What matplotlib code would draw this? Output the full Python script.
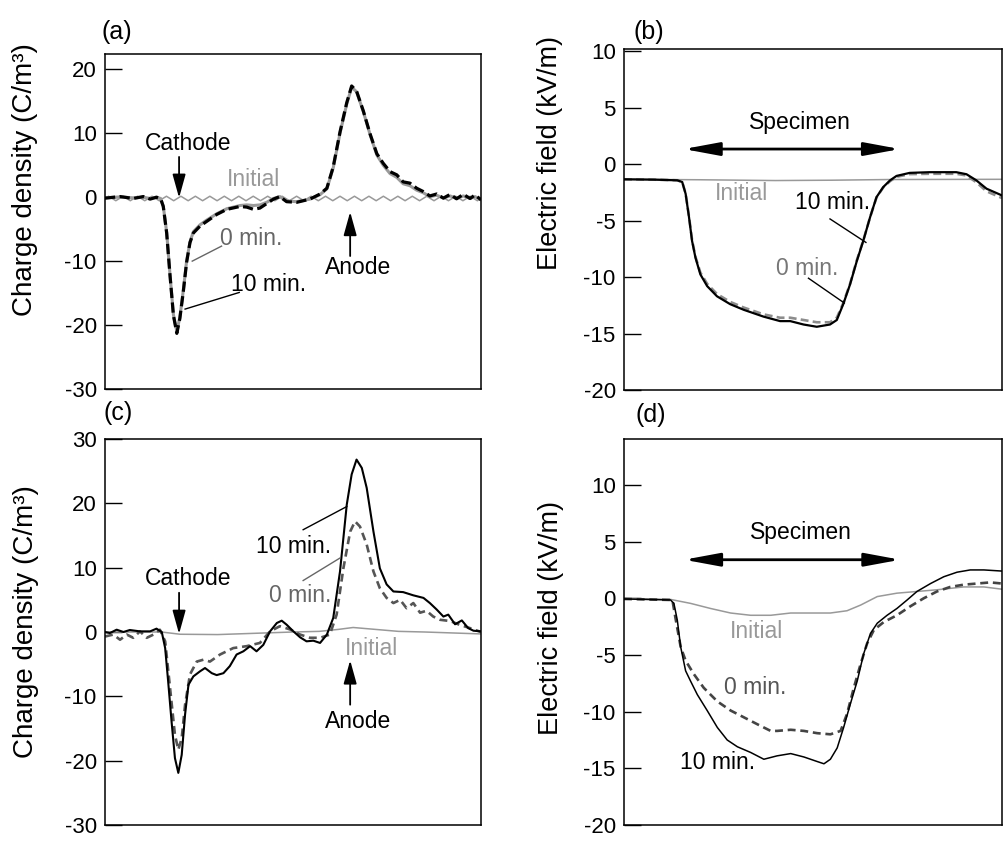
import numpy as np
import matplotlib
matplotlib.use("Agg")
import matplotlib.pyplot as plt

plt.rcParams['font.family'] = ['Liberation Sans', 'DejaVu Sans']
plt.rcParams['axes.unicode_minus'] = False

# ---------------- data (position across specimen in % of axis width) ----------------
# (a) charge density, uniform
a_x = [0, 4.0, 7.5, 10.2, 12.0, 13.7, 14.8, 15.5, 16.4, 17.3, 18.2, 19.1, 19.9, 20.8, 21.7,
       22.6, 23.5, 25.3, 27.0, 29.7, 32.4, 35.9, 37.7, 39.5, 41.2, 43.0, 44.8, 46.5, 48.3,
       51.0, 54.5, 57.2, 59.0, 60.7, 62.5, 64.3, 65.6, 66.9, 68.7, 70.5, 72.3, 74.0, 75.8,
       77.6, 79.3, 81.1, 82.9, 84.6, 86.4, 88.2, 90.0, 91.8, 93.5, 95.3, 97.1, 98.4, 100]
a_10min = [-0.15, 0.1, -0.2, 0.1, -0.3, 0.0, -0.25, -1.45, -5.6, -12.3, -18.5, -21.3, -19.0,
           -14.9, -10.2, -7.1, -5.6, -4.5, -3.8, -2.7, -1.9, -1.45, -1.55, -1.9, -1.7, -1.0,
           -0.3, 0.1, -0.7, -0.8, -0.3, 0.5, 1.4, 4.75, 10.2, 14.8, 17.4, 16.6, 13.5, 9.9, 6.8,
           5.3, 4.0, 3.5, 2.4, 2.2, 1.4, 0.9, 0.2, 0.5, -0.15, 0.45, -0.25, 0.45, -0.2, 0.35, -0.4]
a_0min = [-0.1, 0.05, -0.1, 0.0, -0.2, 0.0, -0.2, -1.4, -5.5, -12.2, -18.4, -21.0, -18.8,
          -14.7, -10.0, -7.0, -5.4, -4.3, -3.6, -2.6, -1.8, -1.3, -1.2, -1.3, -1.2, -0.8,
          -0.2, 0.1, -0.6, -0.7, -0.3, 0.4, 1.3, 4.6, 10.0, 14.6, 17.2, 16.5, 13.4, 9.8, 6.6,
          5.0, 3.7, 3.1, 2.1, 1.8, 1.1, 0.7, 0.1, 0.3, -0.1, 0.2, -0.2, 0.2, -0.2, 0.1, -0.4]
# small ripple of the initial profile, read at quarter-period steps (26 ripples)
a_initial = [-0.2, 0.15, -0.2, -0.55] * 26 + [-0.2]

# (b) electric field, uniform
b_x = [0, 7.9, 14.1, 15.4, 16.3, 17.2, 18.0, 18.9, 20.2, 22.0, 24.6, 28.1, 31.7, 36.9, 41.3,
       44.0, 47.5, 51.0, 54.5, 56.3, 58.0, 59.8, 61.6, 63.3, 65.1, 66.8, 68.6, 70.4, 72.1,
       75.6, 80.9, 87.9, 90.6, 93.2, 95.9, 100]
b_10min = [-1.34, -1.37, -1.43, -1.58, -2.62, -4.7, -6.79, -8.27, -9.76, -10.8, -11.7, -12.4,
           -12.9, -13.5, -13.9, -13.9, -14.2, -14.4, -14.2, -13.8, -12.4, -10.65, -8.57, -6.79,
           -4.7, -2.92, -2.02, -1.43, -1.04, -0.77, -0.71, -0.71, -0.89, -1.43, -2.17, -2.77]
b_0min = [-1.34, -1.37, -1.43, -1.58, -2.6, -4.65, -6.7, -8.2, -9.6, -10.6, -11.5, -12.2,
          -12.7, -13.3, -13.6, -13.6, -13.8, -14.0, -14.0, -13.6, -12.3, -10.6, -8.5, -6.75,
          -4.7, -2.95, -2.05, -1.5, -1.12, -0.88, -0.85, -0.85, -1.0, -1.6, -2.4, -3.0]
b_init_x = [0, 20, 40, 55, 70, 85, 100]
b_initial = [-1.34, -1.38, -1.45, -1.42, -1.36, -1.35, -1.34]

# (c) charge density, divergent
c_x10 = [0, 1.3, 3.1, 4.9, 6.6, 9.3, 12.0, 13.7, 15.1, 16.0, 16.8, 17.7, 18.6, 19.5, 20.4,
         21.3, 22.2, 23.5, 25.3, 26.6, 28.4, 29.7, 31.5, 33.2, 35.0, 36.8, 38.6, 40.3, 42.1,
         43.9, 45.7, 47.0, 48.3, 50.1, 51.9, 53.6, 55.4, 57.2, 59.0, 60.7, 62.5, 64.3, 65.6,
         66.9, 68.3, 69.6, 71.4, 73.1, 74.9, 76.7, 79.3, 82.0, 84.7, 86.4, 88.2, 90.0, 91.3,
         93.1, 94.9, 96.6, 98.0, 100]
c_10min = [0, -0.16, 0.36, 0, 0.31, 0.1, 0.1, 0.52, 0, -2.5, -7.7, -13.9, -19.6, -21.9, -19.1,
           -12.8, -8.2, -6.9, -6.1, -5.6, -6.4, -6.7, -6.4, -5.3, -3.5, -3.0, -2.2, -3.0, -2.0,
           0.1, 1.4, 1.76, 1.14, 0.1, -0.83, -1.45, -1.35, -1.7, -0.41, 2.18, 9.4, 19.8, 24.5,
           26.8, 25.5, 22.4, 15.6, 9.9, 7.4, 6.3, 6.2, 5.7, 5.3, 4.5, 3.5, 2.4, 2.7, 1.2, 1.8,
           0.6, 0.2, 0.1]
c_x0 = [0, 2.2, 4.0, 5.8, 7.5, 9.3, 11.1, 12.9, 14.6, 16.0, 17.3, 18.6, 19.5, 20.4, 21.3,
        22.6, 24.4, 26.2, 27.9, 30.6, 34.1, 37.7, 41.2, 43.9, 46.5, 49.2, 51.9, 54.5, 57.2,
        59.8, 61.6, 63.4, 65.2, 66.5, 67.8, 69.6, 71.4, 73.1, 74.9, 76.7, 78.5, 80.2, 82.0,
        83.8, 85.5, 87.3, 89.1, 91.8, 94.4, 97.1, 100]
c_0min = [-0.7, -0.4, -1.2, -0.4, -0.9, 0.1, -0.9, -0.4, 0.35, -1.45, -8.7, -16.0, -18.3,
          -16.5, -11.3, -6.6, -4.6, -4.3, -4.6, -3.5, -2.5, -2.2, -1.7, 0.1, 0.9, 0.4, -0.4,
          -0.9, -0.9, -0.4, 2.7, 9.9, 15.6, 17.2, 16.4, 13.6, 9.4, 6.8, 5.3, 4.5, 5.0, 3.7,
          4.5, 3.0, 3.3, 2.4, 1.9, 1.7, 1.1, 0.6, 0.0]
c_init_x = [0, 15, 20, 30, 40, 50, 57, 62, 66, 70, 78, 85, 100]
c_initial = [0, 0, -0.35, -0.4, -0.2, 0, 0.1, 0.4, 0.7, 0.5, 0.1, 0, -0.3]

# (d) electric field, divergent
d_x10 = [0, 12.3, 13.2, 14.1, 15.0, 16.3, 17.6, 19.4, 22.0, 24.7, 27.3, 30.0, 33.5, 37.0,
         40.5, 44.1, 47.6, 51.1, 52.9, 54.6, 56.4, 58.1, 59.9, 61.7, 63.4, 65.2, 67.0, 69.6,
         72.2, 74.9, 77.5, 81.1, 84.6, 88.1, 91.6, 95.2, 100]
d_10min = [-0.06, -0.15, -0.45, -1.93, -4.3, -6.4, -7.3, -8.5, -9.9, -11.4, -12.5, -13.1,
           -13.6, -14.2, -13.9, -13.7, -14.0, -14.4, -14.6, -14.2, -13.2, -11.4, -9.3, -7.3,
           -4.9, -3.1, -2.2, -1.5, -0.9, -0.15, 0.6, 1.3, 1.9, 2.3, 2.5, 2.5, 2.4]
d_x0 = [0, 12.8, 13.7, 15.0, 16.3, 18.5, 21.1, 24.7, 28.2, 31.7, 35.2, 38.8, 40.5, 44.1,
        47.6, 51.1, 54.6, 57.3, 59.0, 60.8, 62.6, 64.3, 66.1, 68.7, 72.2, 75.8, 79.3, 82.8,
        86.3, 89.9, 93.4, 96.9, 100]
d_0min = [-0.06, -0.15, -1.9, -4.3, -5.5, -6.7, -7.9, -9.1, -9.9, -10.5, -11.1, -11.7, -11.7,
          -11.6, -11.7, -11.9, -12.0, -11.7, -10.2, -7.9, -5.8, -4.0, -2.8, -2.1, -1.5, -0.7,
          0.0, 0.6, 1.0, 1.2, 1.3, 1.4, 1.3]
d_init_x = [0, 12.3, 17.6, 22.9, 28.2, 33.5, 38.8, 44.1, 49.3, 54.6, 59.0, 62.6, 67.0, 72.2,
            77.5, 82.8, 89.9, 95.2, 100]
d_initial = [0, -0.1, -0.45, -0.9, -1.3, -1.5, -1.5, -1.3, -1.3, -1.3, -1.1, -0.6, 0.15,
             0.45, 0.6, 0.75, 1.0, 1.0, 0.8]

rho_ticks = [20, 10, 0, -10, -20, -30]
rho_ticks_c = [30, 20, 10, 0, -10, -20, -30]
e_ticks = [10, 5, 0, -5, -10, -15, -20]

# ---------------- figure ----------------
W, H = 1008, 843
fig = plt.figure(figsize=(W / 100, H / 100), dpi=100)

def px_axes(l, t, r, b):
    return fig.add_axes([l / W, 1 - b / H, (r - l) / W, (b - t) / H])

axA = px_axes(105, 54, 481, 389)
axB = px_axes(624, 49, 1002, 390)
axC = px_axes(105, 439, 481, 825)
axD = px_axes(624, 439, 1002, 825)

INIT = '#999999'
TFS = 16.5

for ax in (axA, axB, axC, axD):
    ax.set_xlim(0, 100)
    ax.set_xticks([])
    ax.tick_params(axis='y', direction='in', length=12, width=1.0, labelsize=16, pad=6)
    for s in ax.spines.values():
        s.set_linewidth(1.1)

axA.set_ylim(-30, 22.4)
axA.set_yticks(rho_ticks)
axB.set_ylim(-20, 10.2)
axB.set_yticks(e_ticks)
axC.set_ylim(-30, 30)
axC.set_yticks(rho_ticks_c)
axD.set_ylim(-20, 14.05)
axD.set_yticks(e_ticks)

# ---- (a)
axA.plot(np.linspace(0, 100, len(a_initial)), a_initial, color=INIT, lw=1.1)
axA.plot(a_x, a_0min, color='#9a9a9a', lw=2.2)
axA.plot(a_x, a_10min, color='black', lw=2.3, dashes=(3.2, 1.4))

# ---- (b)
axB.plot(b_init_x, b_initial, color=INIT, lw=1.1)
axB.plot(b_x, b_0min, color='#8c8c8c', lw=1.9, dashes=(3.0, 1.6))
axB.plot(b_x, b_10min, color='black', lw=1.6)

# ---- (c)
axC.plot(c_init_x, c_initial, color=INIT, lw=1.1)
axC.plot(c_x0, c_0min, color='#555555', lw=1.9, dashes=(3.0, 1.8))
axC.plot(c_x10, c_10min, color='black', lw=1.5)

# ---- (d)
axD.plot(d_init_x, d_initial, color=INIT, lw=1.1)
axD.plot(d_x0, d_0min, color='#444444', lw=1.9, dashes=(3.0, 1.8))
axD.plot(d_x10, d_10min, color='black', lw=1.1)

# ---------------- annotations ----------------
def v_arrow(ax, x, y0, y1):
    ax.annotate('', xy=(x, y1), xytext=(x, y0),
                arrowprops=dict(arrowstyle='-|>,head_length=0.72,head_width=0.2',
                                mutation_scale=20, color='black', lw=1.3,
                                shrinkA=0, shrinkB=0))

def h_arrow(ax, x0, x1, y):
    ax.annotate('', xy=(x1, y), xytext=(x0, y),
                arrowprops=dict(arrowstyle='<|-|>,head_length=1.08,head_width=0.2',
                                mutation_scale=20, color='black', lw=2.0,
                                shrinkA=0, shrinkB=0))

def leader(ax, p0, p1, color):
    ax.plot([p0[0], p1[0]], [p0[1], p1[1]], color=color, lw=1.0)

# (a)
axA.text(22.2, 8.4, 'Cathode', fontsize=TFS, ha='center', va='center')
v_arrow(axA, 19.7, 6.3, -0.1)
axA.text(39.5, 2.7, 'Initial', fontsize=TFS, ha='center', va='center', color=INIT)
axA.text(67.4, -11.0, 'Anode', fontsize=TFS, ha='center', va='center')
v_arrow(axA, 65.2, -9.2, -2.3)
axA.text(39.0, -6.5, '0 min.', fontsize=TFS, ha='center', va='center', color='#666666')
leader(axA, (31.0, -7.65), (23.2, -10.0), '#666666')
axA.text(43.4, -13.6, '10 min.', fontsize=TFS, ha='center', va='center')
leader(axA, (35.7, -14.9), (21.3, -17.5), 'black')

# (b)
axB.text(46.6, 3.7, 'Specimen', fontsize=TFS, ha='center', va='center')
h_arrow(axB, 15.8, 73.0, 1.34)
axB.text(31.0, -2.56, 'Initial', fontsize=TFS, ha='center', va='center', color=INIT)
axB.text(55.2, -3.36, '10 min.', fontsize=TFS, ha='center', va='center')
leader(axB, (54.5, -4.85), (64.0, -6.93), 'black')
axB.text(48.4, -9.2, '0 min.', fontsize=TFS, ha='center', va='center', color='#777777')
leader(axB, (48.8, -10.1), (58.3, -12.3), 'black')

# (c)
axC.text(22.2, 8.3, 'Cathode', fontsize=TFS, ha='center', va='center')
v_arrow(axC, 19.7, 6.1, -0.3)
axC.text(70.9, -2.6, 'Initial', fontsize=TFS, ha='center', va='center', color=INIT)
axC.text(67.4, -13.9, 'Anode', fontsize=TFS, ha='center', va='center')
v_arrow(axC, 65.2, -11.3, -4.4)
axC.text(50.1, 13.3, '10 min.', fontsize=TFS, ha='center', va='center')
leader(axC, (52.7, 15.9), (64.3, 19.5), 'black')
axC.text(51.9, 5.7, '0 min.', fontsize=TFS, ha='center', va='center', color='#666666')
leader(axC, (52.7, 8.0), (62.5, 11.5), '#666666')

# (d)
axD.text(46.7, 5.8, 'Specimen', fontsize=TFS, ha='center', va='center')
h_arrow(axD, 15.9, 73.1, 3.4)
axD.text(35.0, -2.9, 'Initial', fontsize=TFS, ha='center', va='center', color=INIT)
axD.text(34.8, -7.9, '0 min.', fontsize=TFS, ha='center', va='center', color='#555555')
axD.text(24.7, -14.5, '10 min.', fontsize=TFS, ha='center', va='center')

# panel labels
for lbl, (x, y) in {'(a)': (117, 32), '(b)': (649, 32), '(c)': (118, 413), '(d)': (651, 415)}.items():
    fig.text(x / W, 1 - y / H, lbl, fontsize=18, ha='center', va='center')

# y labels
fig.text(25.5 / W, 1 - 180 / H, 'Charge density (C/m³)', rotation=90, fontsize=20,
         ha='center', va='center')
fig.text(550 / W, 1 - 153 / H, 'Electric field (kV/m)', rotation=90, fontsize=19.5,
         ha='center', va='center')
fig.text(26 / W, 1 - 622 / H, 'Charge density (C/m³)', rotation=90, fontsize=20,
         ha='center', va='center')
fig.text(551 / W, 1 - 618 / H, 'Electric field (kV/m)', rotation=90, fontsize=19.5,
         ha='center', va='center')

fig.savefig('out.png', dpi=100)
